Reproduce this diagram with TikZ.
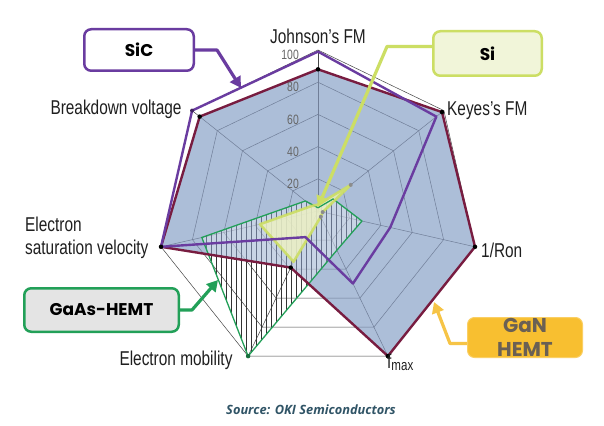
\documentclass[tikz,border=0pt]{standalone}
\usepackage{fontspec}
\setmainfont{Liberation Sans}
\newfontfamily\labfont[FakeStretch=0.77]{Liberation Sans}
\newfontfamily\boxfont{Poppins}
\newfontfamily\srcfont{Open Sans}
\usetikzlibrary{calc,arrows.meta}
\definecolor{ganfill}{RGB}{172,190,216}
\definecolor{ganline}{RGB}{120,28,64}
\definecolor{sicline}{RGB}{106,60,160}
\definecolor{siline}{RGB}{204,222,100}
\definecolor{sifill}{RGB}{236,240,196}
\definecolor{gaasline}{RGB}{34,160,88}
\definecolor{gaasbox}{RGB}{228,228,228}
\definecolor{sibox}{RGB}{241,245,217}
\definecolor{ganbox}{RGB}{248,191,48}
\definecolor{ganarrow}{RGB}{246,196,70}
\definecolor{gantext}{RGB}{106,96,84}
\definecolor{gridin}{RGB}{112,126,152}
\definecolor{griddk}{RGB}{70,70,70}
\definecolor{srccol}{RGB}{48,84,102}
\begin{document}
\begin{tikzpicture}[x=1pt,y=-1pt,
  gridout/.style={draw=griddk, line width=0.5pt},
  gridinner/.style={draw=gridin, line width=0.5pt},
  hatchout/.style={draw=black!80, line width=0.5pt},
  hatchin/.style={draw=gridin!90!black, line width=0.45pt},
  axislab/.style={font=\labfont\fontsize{20}{22}\selectfont, text=black!88, inner sep=0pt},
  ticklab/.style={font=\labfont\fontsize{13.5}{13.5}\selectfont, text=black!60, anchor=east, inner sep=0pt},
  callout/.style={rounded corners=7pt, line width=2.5pt, inner sep=0pt, align=center,
     font=\boxfont\bfseries\fontsize{17}{20}\selectfont},
  arr/.style={line width=3.2pt, line join=round, -{Triangle[length=11pt,width=12pt]}},
  dot/.style={circle, inner sep=0pt, minimum size=#1}]
\useasboundingbox (0,0) rectangle (604,425);
\fill[white] (0,0) rectangle (604,425);
% axes
\coordinate (C) at (318,211);
\coordinate (A1) at (318,50);
\coordinate (A2) at (443.9,110.6);
\coordinate (A3) at (475.0,246.8);
\coordinate (A4) at (387.9,356.1);
\coordinate (A5) at (248.1,356.1);
\coordinate (A6) at (161.0,246.8);
\coordinate (A7) at (192.1,110.6);
% data
\foreach \i/\v in {1/0.88,2/0.985,3/1,4/1,5/0.39,6/1,7/0.94}
  \coordinate (N\i) at ($(C)!\v!(A\i)$);
\foreach \i/\v in {1/0.99,2/0.94,3/0.46,4/0.50,5/0.18,6/1,7/1}
  \coordinate (S\i) at ($(C)!\v!(A\i)$);
\foreach \i/\v in {1/0.04,2/0.26,3/0.03,4/0.04,5/0.35,6/0.37,7/0.05}
  \coordinate (I\i) at ($(C)!\v!(A\i)$);
\foreach \i/\v in {1/0.02,2/0.12,3/0.28,4/0.27,5/1,6/0.74,7/0.10}
  \coordinate (G\i) at ($(C)!\v!(A\i)$);
% grid (outside)
\foreach \v in {0.2,0.4,0.6,0.8,1}
  \draw[gridout] ($(C)!\v!(A1)$) -- ($(C)!\v!(A2)$) -- ($(C)!\v!(A3)$) -- ($(C)!\v!(A4)$) -- ($(C)!\v!(A5)$) -- ($(C)!\v!(A6)$) -- ($(C)!\v!(A7)$) -- cycle;
\foreach \i in {1,...,7} \draw[gridout] (C) -- (A\i);
% GaAs hatch outside
\begin{scope}
  \clip (G1) -- (G2) -- (G3) -- (G4) -- (G5) -- (G6) -- (G7) -- cycle;
  \foreach \x in {196,201,...,366} \draw[hatchout] (\x,190) -- (\x,362);
\end{scope}
% GaN fill
\fill[ganfill] (N1) -- (N2) -- (N3) -- (N4) -- (N5) -- (N6) -- (N7) -- cycle;
\begin{scope}
  \clip (N1) -- (N2) -- (N3) -- (N4) -- (N5) -- (N6) -- (N7) -- cycle;
  \foreach \v in {0.2,0.4,0.6,0.8,1}
    \draw[gridinner] ($(C)!\v!(A1)$) -- ($(C)!\v!(A2)$) -- ($(C)!\v!(A3)$) -- ($(C)!\v!(A4)$) -- ($(C)!\v!(A5)$) -- ($(C)!\v!(A6)$) -- ($(C)!\v!(A7)$) -- cycle;
  \foreach \i in {1,...,7} \draw[gridinner] (C) -- (A\i);
  \fill[white, opacity=0.35] (G1) -- (G2) -- (G3) -- (G4) -- (G5) -- (G6) -- (G7) -- cycle;
  \begin{scope}
    \clip (G1) -- (G2) -- (G3) -- (G4) -- (G5) -- (G6) -- (G7) -- cycle;
    \foreach \x in {196,201,...,366} \draw[hatchin] (\x,190) -- (\x,362);
  \end{scope}
\end{scope}
% Si fill
\fill[sifill, opacity=0.85] (I1) -- (I2) -- (I3) -- (I4) -- (I5) -- (I6) -- (I7) -- cycle;
% outlines
\draw[gaasline, line width=1.3pt, line join=round] (G1) -- (G2) -- (G3) -- (G4) -- (G5) -- (G6) -- (G7) -- cycle;
\draw[siline, line width=2.6pt, line join=round, opacity=0.9] (I1) -- (I2) -- (I3) -- (I4) -- (I5) -- (I6) -- (I7) -- cycle;
\draw[ganline, line width=2.4pt, line join=round] (N1) -- (N2) -- (N3) -- (N4) -- (N5) -- (N6) -- (N7) -- cycle;
\draw[sicline, line width=2.4pt, line join=round] (S1) -- (S2) -- (S3) -- (S4) -- (S5) -- (S6) -- (S7) -- cycle;
% markers
\foreach \i in {1,...,7} \node[dot=4.5pt, fill=black] at (N\i) {};
\foreach \i in {2,3,4} \node[dot=4pt, fill=black!45] at (I\i) {};
\node[dot=4.5pt, fill=gaasline!70!black] at (G5) {};
\node[dot=4pt, fill=sicline!60!black] at (S7) {};
% tick labels
\foreach \v/\t in {1/100,0.8/80,0.6/60,0.4/40,0.2/20}
  \node[ticklab] at ($(C)!\v!(A1)+(-19,5)$) {\t};
% axis labels
\node[axislab] (lj) at (318,36) {Johnson’s FM};
\node[axislab, anchor=west] (lk) at (447,111) {Keyes’s FM};
\node[axislab, anchor=west] (lr) at (481,250) {1/Ron};
\node[axislab, anchor=base west] (lf) at (387,368) {f{\labfont\fontsize{15}{15}\selectfont\raisebox{-2pt}{max}}};
\node[axislab] (lm) at (176,360) {Electron mobility};
\node[axislab, anchor=west, align=left, font=\labfont\fontsize{20}{23}\selectfont] (le) at (25,238) {Electron\\saturation velocity};
\node[axislab] (lb) at (116,109) {Breakdown voltage};
% callout boxes
\node[callout, draw=sicline, fill=white, minimum width=109.5pt, minimum height=41.5pt] (sic) at (139,50) {SiC};
\node[callout, draw=siline, fill=sibox, minimum width=108.5pt, minimum height=44.5pt] (si) at (487.5,53.5) {Si};
\node[callout, draw=ganbox!75!white, line width=1pt, fill=ganbox, text=gantext, minimum width=115pt, minimum height=40pt,
      font=\boxfont\bfseries\fontsize{20}{24}\selectfont] (gan) at (525,337.5) {GaN\\HEMT};
\node[callout, draw=gaasline, fill=gaasbox, minimum width=154.5pt, minimum height=43.5pt] (gaas) at (101.5,310) {GaAs-HEMT};
% arrow tips
\coordinate (sictip) at (241,88);
\coordinate (sitip) at (318,207);
\coordinate (gantip) at (434,302);
\coordinate (gaastip) at (218,280);
\draw[arr, sicline] (sic.east) -- ++(22,0) -- (sictip);
\draw[arr, siline] ($(si.west)+(0,-7)$) -- ++(-45,0) -- (sitip);
\draw[arr, ganarrow] ($(gan.west)+(0,6)$) -- ++(-17,0) -- (gantip);
\draw[arr, gaasline] (gaas.east) -- ++(12,0) -- (gaastip);
% source
\node[font=\srcfont\bfseries\itshape\fontsize{12.8}{14}\selectfont, text=srccol, inner sep=0pt] (src) at (311,410) {Source: OKI Semiconductors};
\end{tikzpicture}
\end{document}
